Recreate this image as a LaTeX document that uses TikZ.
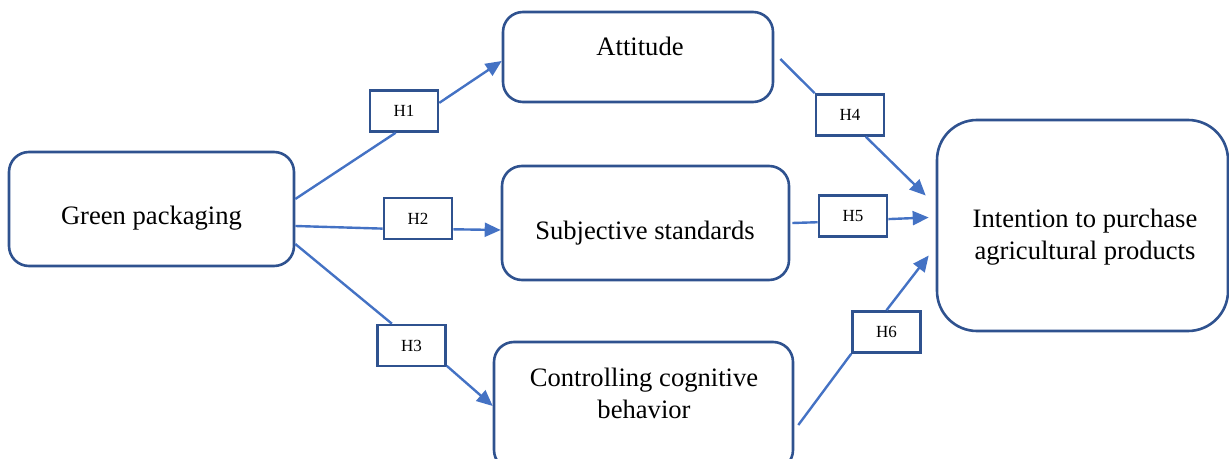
\documentclass[tikz,border=0pt]{standalone}
\usepackage{fontspec}
\setmainfont{Liberation Serif}
\usepackage{tikz}
\usetikzlibrary{arrows.meta}

\definecolor{boxblue}{HTML}{2F528F}
\definecolor{lineblue}{HTML}{4472C4}

\tikzset{
    box/.style={draw=boxblue, line width=1.3pt, rounded corners=10pt, fill=white, inner sep=0pt},
    hbox/.style={draw=boxblue, line width=1.3pt, fill=white, minimum width=34pt, minimum height=20.5pt, inner sep=0pt, font=\fontsize{8.5}{10}\selectfont},
    txt/.style={align=center, inner sep=0pt, font=\fontsize{13.3}{16}\selectfont},
    link/.style={draw=lineblue, line width=1.2pt},
    arr/.style={link, -{Triangle[length=8pt,width=7pt]}}
}

\begin{document}
\begin{tikzpicture}[x=0.5pt, y=-0.5pt]
    \useasboundingbox (0,0) rectangle (1229,459);
    \clip (0,0) rectangle (1229,459);

    % boxes
    \node[box, minimum width=142.5pt, minimum height=57pt] (gp) at (151.5,209) {};
    \node[box, minimum width=135pt, minimum height=45pt] (att) at (638,57) {};
    \node[box, minimum width=143.5pt, minimum height=57pt] (subj) at (645.5,223) {};
    \node[box, minimum width=149.5pt, minimum height=64pt] (ctrl) at (643.5,406) {};
    \node[box, rounded corners=20pt, minimum width=145.5pt, minimum height=105.5pt] (intent) at (1082.5,225.5) {};

    \node[txt] (gptxt) at (151.5,218) {Green packaging};
    \node[txt] (atttxt) at (640,46) {Attitude};
    \node[txt] (subjtxt) at (645,233) {Subjective standards};
    \node[txt] (ctrltxt) at (644,393) {Controlling cognitive\\behavior};
    \node[txt] (intenttxt) at (1085,237) {Intention to purchase\\agricultural products};

    % hypotheses
    \node[hbox] (h1) at (404,111) {H1};
    \node[hbox] (h2) at (418,218.5) {H2};
    \node[hbox] (h3) at (411.5,345.5) {H3};
    \node[hbox] (h4) at (850,115) {H4};
    \node[hbox] (h5) at (853,216) {H5};
    \node[hbox] (h6) at (886.5,332) {H6};

    % connectors
    \draw[link] ([yshift=5pt]gp.east) -- (h1.-111);
    \draw[arr] (h1.13) -- ([yshift=-2pt]att.west);
    \draw[link] ([yshift=-8.5pt]gp.east) -- (h2.-164);
    \draw[arr] (h2.-17) -- ([yshift=-3.5pt]subj.west);
    \draw[link] ([yshift=-17.5pt]gp.east) -- (h3.132);
    \draw[arr] (h3.-30) -- (ctrl.west);

    \draw[link] ([xshift=3pt,yshift=-1pt]att.east) -- (h4.north west);
    \draw[arr] (h4.-54) -- ([xshift=-5pt,yshift=15pt]intent.west);
    \draw[link] ([xshift=1pt]subj.east) -- (h5.-170);
    \draw[arr] (h5.-5) -- ([xshift=-3.5pt,yshift=4pt]intent.west);
    \draw[link] ([xshift=2pt,yshift=-9.5pt]ctrl.east) -- (h6.south west);
    \draw[arr] (h6.north) -- ([xshift=-3.5pt,yshift=-15pt]intent.west);
\end{tikzpicture}
\end{document}
